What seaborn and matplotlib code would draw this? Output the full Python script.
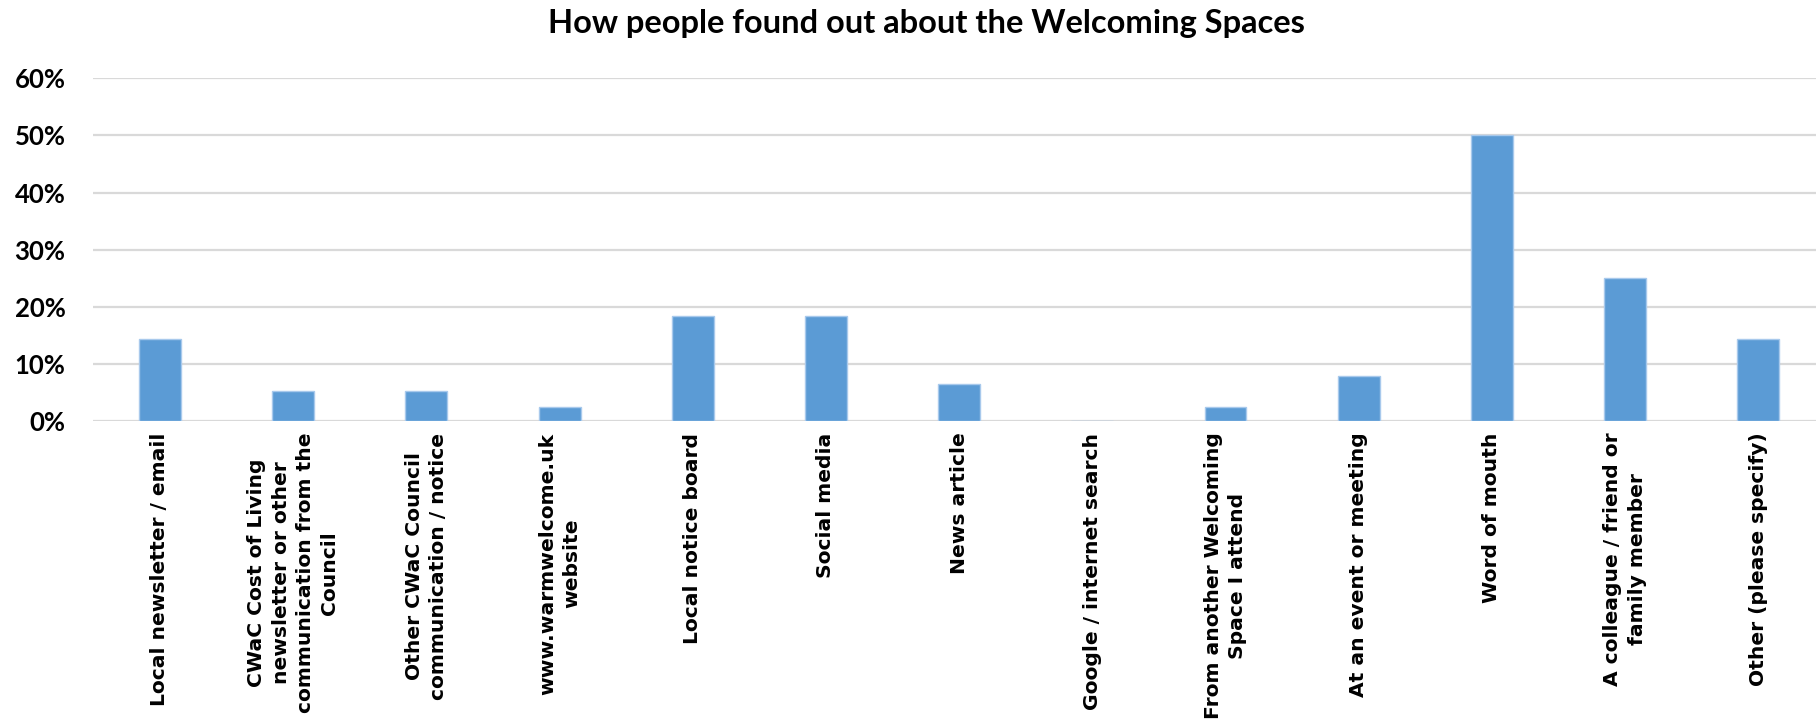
import matplotlib
matplotlib.use("Agg")
import matplotlib.pyplot as plt
import seaborn as sns
import pandas as pd
from matplotlib.ticker import PercentFormatter, MultipleLocator

categories = [
    "Local newsletter / email",
    "CWaC Cost of Living\nnewsletter or other\ncommunication from the\nCouncil",
    "Other CWaC Council\ncommunication / notice",
    "www.warmwelcome.uk\nwebsite",
    "Local notice board",
    "Social media",
    "News article",
    "Google / internet search",
    "From another Welcoming\nSpace I attend",
    "At an event or meeting",
    "Word of mouth",
    "A colleague / friend or\nfamily member",
    "Other (please specify)",
]
shares = [0.145, 0.053, 0.053, 0.026, 0.184, 0.184, 0.066, 0.0, 0.026, 0.079, 0.50, 0.25, 0.145]

df = pd.DataFrame({"source": categories, "share": shares})

sns.set_theme(style="white")
plt.rcParams["font.family"] = ["Lato", "DejaVu Sans"]

fig = plt.figure(figsize=(18.16, 7.21), dpi=100)
ax = fig.add_axes([0.0514, 0.4154, 0.9535, 0.476])

sns.barplot(data=df, x="source", y="share", color="#5b9bd5", saturation=1,
            width=0.315, edgecolor="#a8c9ec", linewidth=1.0, ax=ax)

ax.set_ylim(0, 0.6)
ax.yaxis.set_major_locator(MultipleLocator(0.1))
ax.yaxis.set_major_formatter(PercentFormatter(1.0, decimals=0))
ax.grid(axis="y", color="#d9d9d9", linewidth=1.6)
ax.set_axisbelow(True)
for s in ax.spines.values():
    s.set_visible(False)
ax.set_xlabel("")
ax.set_ylabel("")
ax.tick_params(axis="both", length=0)
ax.tick_params(axis="y", pad=20)
ax.tick_params(axis="x", pad=8)

for lab in ax.get_yticklabels():
    lab.set_fontsize(18.5)
    lab.set_fontweight("bold")
    lab.set_color("black")

for lab in ax.get_xticklabels():
    lab.set_family("DejaVu Sans")
    lab.set_fontsize(14.6)
    lab.set_fontweight("bold")
    lab.set_rotation(90)
    lab.set_ha("center")
    lab.set_va("top")
    lab.set_multialignment("center")
    lab.set_linespacing(1.35)
    lab.set_color("black")

fig.text(0.51, 0.967, "How people found out about the Welcoming Spaces",
         ha="center", va="center", fontsize=23.5, fontweight="bold", color="black")

fig.savefig("out.png", dpi=100, facecolor="white")
